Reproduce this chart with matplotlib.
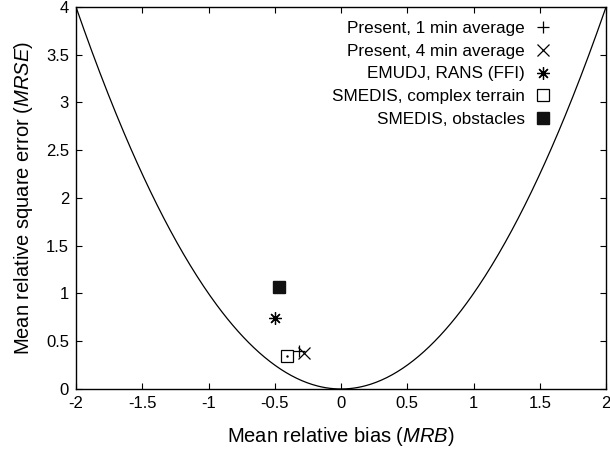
import numpy as np
import matplotlib
matplotlib.use("Agg")
import matplotlib.pyplot as plt

plt.rcParams['font.family'] = ['Liberation Sans', 'DejaVu Sans']
plt.rcParams['mathtext.fontset'] = 'custom'
plt.rcParams['mathtext.rm'] = 'Liberation Sans'
plt.rcParams['mathtext.it'] = 'Liberation Sans:italic'

# Data (MRB, MRSE)
labels = ["Present, 1 min average", "Present, 4 min average", "EMUDJ, RANS (FFI)",
          "SMEDIS, complex terrain", "SMEDIS, obstacles"]
mrb = [-0.32, -0.28, -0.50, -0.41, -0.465]
mrse = [0.40, 0.375, 0.74, 0.35, 1.065]

xticks = [-2, -1.5, -1, -0.5, 0, 0.5, 1, 1.5, 2]
xticklabels = ["-2", "-1.5", "-1", "-0.5", "0", "0.5", "1", "1.5", "2"]
yticks = [0, 0.5, 1, 1.5, 2, 2.5, 3, 3.5, 4]
yticklabels = ["0", "0.5", "1", "1.5", "2", "2.5", "3", "3.5", "4"]

fig = plt.figure(figsize=(6.10, 4.53), dpi=100)
ax = fig.add_axes([0.1246, 0.1413, 0.8689, 0.8433])

xx = np.linspace(-2, 2, 400)
ax.plot(xx, xx**2, color='black', lw=0.9)

ax.plot(mrb[0], mrse[0], linestyle='none', marker='+', ms=9, mew=0.9, color='black', label=labels[0])
ax.plot(mrb[1], mrse[1], linestyle='none', marker='x', ms=8, mew=0.9, color='black', label=labels[1])
ax.plot(mrb[2], mrse[2], linestyle='none', marker=(8, 2, 0), ms=9, mew=0.9, color='black', label=labels[2])
ax.plot(mrb[3], mrse[3], linestyle='none', marker='s', ms=8.5, mew=0.9, mfc='none', mec='black', label=labels[3])
ax.plot(mrb[3], mrse[3], linestyle='none', marker='.', ms=1.5, color='black')
ax.plot(mrb[4], mrse[4], linestyle='none', marker='s', ms=9, color='#111111', label=labels[4])

ax.set_xlim(-2, 2)
ax.set_ylim(0, 4)
ax.set_xticks(xticks)
ax.set_xticklabels(xticklabels)
ax.set_yticks(yticks)
ax.set_yticklabels(yticklabels)
ax.tick_params(direction='in', top=True, right=True, labelsize=12, length=4.5, width=0.8)
ax.tick_params(axis='x', pad=5)
ax.tick_params(axis='y', pad=5)
for s in ax.spines.values():
    s.set_linewidth(1.0)

ax.set_xlabel("Mean relative bias ($\\mathit{MRB}$)", fontsize=14.5, labelpad=10)
ax.set_ylabel("Mean relative square error ($\\mathit{MRSE}$)", fontsize=14.5, labelpad=8)

leg = ax.legend(loc='upper right', frameon=False, markerfirst=False, fontsize=12.3,
                handlelength=1.0, handletextpad=0.55, labelspacing=0.45,
                borderaxespad=0.0, borderpad=0.0, bbox_to_anchor=(0.897, 0.963))
for t in leg.get_texts():
    t.set_ha('right')

fig.savefig("out.png", dpi=100)
